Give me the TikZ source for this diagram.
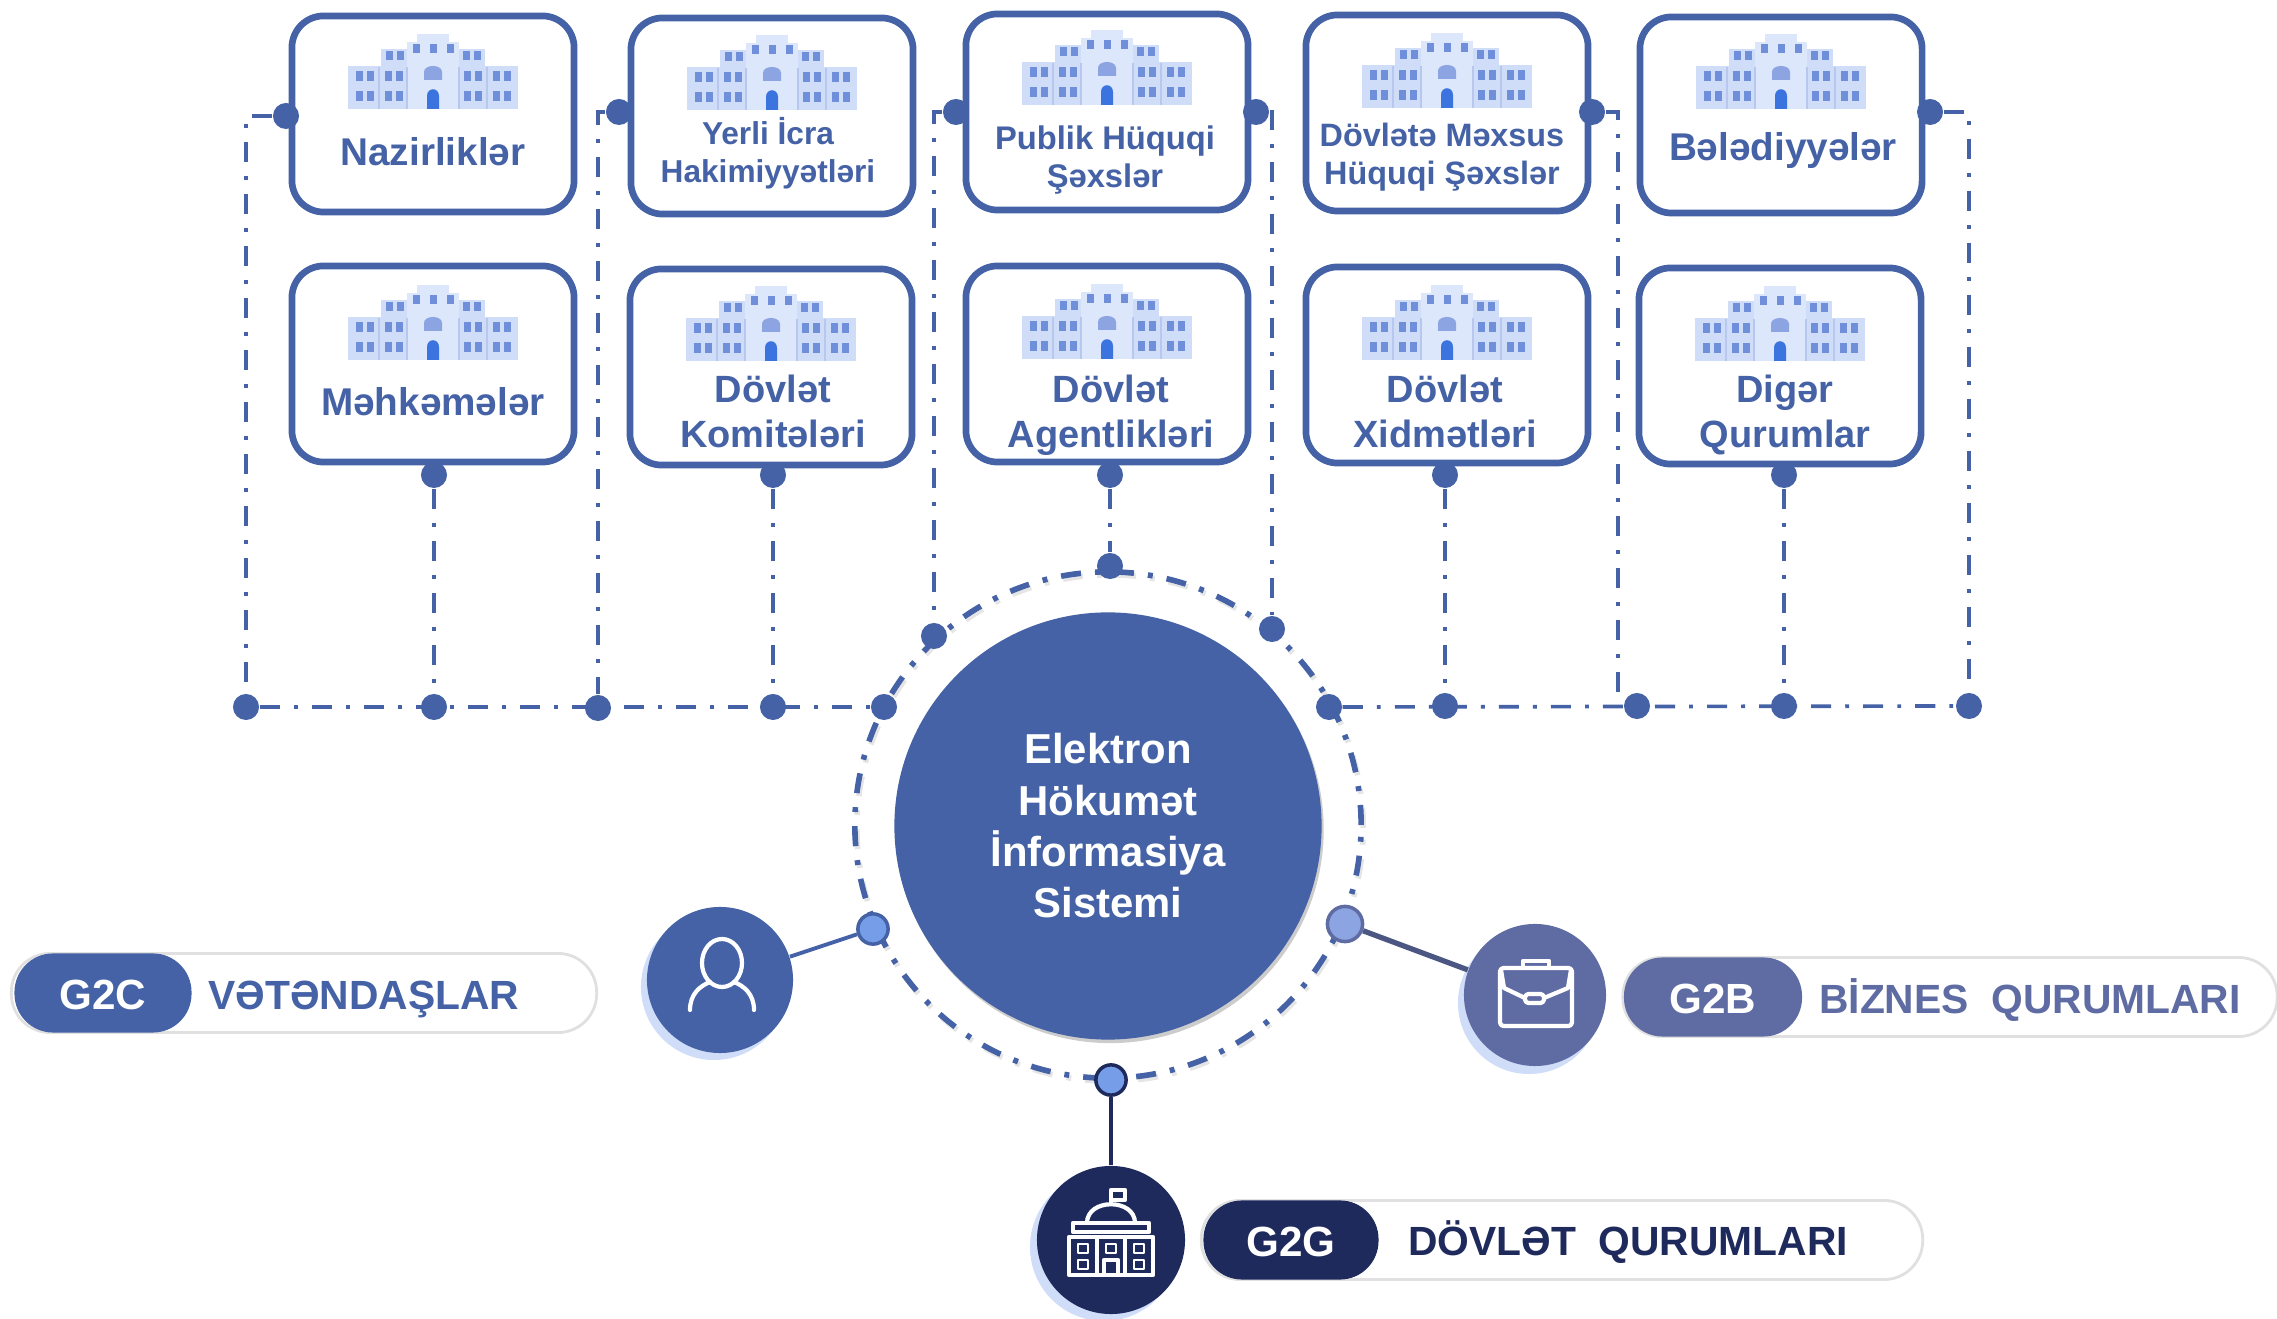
\documentclass[tikz,border=0pt]{standalone}
\usepackage{fontspec}
\setmainfont{Liberation Sans}
\usetikzlibrary{shadows}
\definecolor{egovblue}{HTML}{4462A5}
\definecolor{bizblue}{HTML}{5F6CA3}
\definecolor{govnavy}{HTML}{1F2A5C}
\definecolor{wallblue}{HTML}{CFDDF9}
\definecolor{windowblue}{HTML}{6F8FDB}
\definecolor{doorblue}{HTML}{3B74DE}
\tikzset{
    unitbox/.style={rectangle, draw=egovblue, line width=1.9pt, fill=white, rounded corners=9pt, minimum width=2.82cm, minimum height=1.96cm},
    unitlabel/.style={text=egovblue, font=\bfseries\fontsize{#1}{12.8}\selectfont, align=center, inner sep=0pt},
    unitlabel/.default=11,
    smalllabel/.style={text=egovblue, font=\bfseries\fontsize{#1}{10.8}\selectfont, align=center, inner sep=0pt},
    joint/.style={circle, fill=egovblue, inner sep=0pt, minimum size=7.4pt},
    portdot/.style={circle, draw=#1, line width=1pt, inner sep=0pt, minimum size=8.6pt},
    trunkline/.style={draw=egovblue, line width=1.05pt, dash pattern=on 5.7pt off 4pt on 1.1pt off 4pt},
    ringline/.style={line width=1.6pt, dash pattern=on 5.7pt off 4pt on 1.4pt off 4pt},
    rolecircle/.style={circle, inner sep=0pt, minimum size=#1},
    pillbar/.style={rectangle, draw=black!12, line width=0.8pt, fill=white, rounded corners=11pt, minimum height=22.5pt},
    pillhead/.style={rectangle, rounded corners=11pt, minimum height=22.5pt, text=white, font=\bfseries\fontsize{12}{14}\selectfont, inner sep=0pt, text height=9.5pt, text depth=0pt},
    pilltext/.style={font=\bfseries\fontsize{11.6}{14}\selectfont, inner sep=0pt},
    iconline/.style={draw=white, line width=1.2pt, line join=round},
    govbuilding/.pic={
        \fill[wallblue!70] (-16,-75) rectangle (16,-66);
        \fill[wallblue] (-52,-60) rectangle (52,-42);
        \fill[wallblue] (-85,-43) rectangle (85,0);
        \fill[wallblue!70] (-26,-67) rectangle (26,0);
        \foreach \wx in {-74,-63,-45,-34,34,45,63,74} {
            \fill[windowblue] (\wx-3.5,-38) rectangle (\wx+3.5,-28);
            \fill[windowblue] (\wx-3.5,-18) rectangle (\wx+3.5,-8);
        }
        \foreach \wx in {-44,-33,33,44} {
            \fill[windowblue] (\wx-3.5,-58) rectangle (\wx+3.5,-49);
        }
        \foreach \wx in {-17,0,17} {
            \fill[windowblue] (\wx-3.5,-65) rectangle (\wx+3.5,-56);
        }
        \foreach \wx in {-54,54,-26,26} {
            \draw[windowblue!50, line width=0.3pt] (\wx,-42) -- (\wx,0);
        }
        \fill[windowblue!80] (-9,-29) -- (-9,-37) .. controls (-9,-45) and (9,-45) .. (9,-37) -- (9,-29) -- cycle;
        \fill[doorblue] (-6,0) -- (-6,-13) .. controls (-6,-22) and (6,-22) .. (6,-13) -- (6,0) -- cycle;
    },
    usericon/.pic={
        \draw[iconline] (2,-17) ellipse (20 and 24);
        \draw[iconline, line cap=round] (-30,30) .. controls (-30,14) and (-20,6) .. (-10,2);
        \draw[iconline, line cap=round] (34,30) .. controls (34,14) and (24,6) .. (14,2);
    },
    caseicon/.pic={
        \draw[iconline, rounded corners=1pt] (-35,-27) rectangle (37,31);
        \draw[iconline] (-12,-27) -- (-12,-34) -- (14,-34) -- (14,-27);
        \draw[iconline] (-34,-25) -- (-31,-7) -- (-10,3);
        \draw[iconline] (9,3) -- (33,-7) -- (36,-25);
        \draw[iconline, rounded corners=1pt] (-10,-1) rectangle (9,8);
    },
    capitolicon/.pic={
        \draw[iconline] (0,-36) -- (0,-50) -- (14,-50) -- (14,-40) -- (0,-40);
        \draw[iconline] (-24,-17) .. controls (-24,-42) and (24,-42) .. (24,-17);
        \draw[iconline] (-38,-17) rectangle (38,-8);
        \draw[iconline] (-42,-3) rectangle (42,35);
        \draw[iconline] (-14,-3) -- (-14,35);
        \draw[iconline] (14,-3) -- (14,35);
        \draw[iconline] (-7,35) -- (-7,20) -- (7,20) -- (7,35);
        \foreach \wx in {-28,0,28} {
            \draw[iconline, line width=0.8pt] (\wx-5,4) rectangle (\wx+5,13);
        }
        \foreach \wx in {-28,28} {
            \draw[iconline, line width=0.8pt] (\wx-5,20) rectangle (\wx+5,29);
        }
    }
}

\begin{document}
\begin{tikzpicture}[x=0.01cm, y=-0.01cm]
    \useasboundingbox (0,0) rectangle (2277,1319);

    % Unit boxes, upper row
    \node[unitbox] (nazir) at (433,114) {};
    \node[unitbox] (yerli) at (772,116) {};
    \node[unitbox] (publik) at (1107,112) {};
    \node[unitbox] (mexsus) at (1447,113) {};
    \node[unitbox] (beled) at (1781,115) {};

    % Unit boxes, lower row
    \node[unitbox] (mehkeme) at (433,364) {};
    \node[unitbox] (komite) at (771,367) {};
    \node[unitbox] (agent) at (1107,364) {};
    \node[unitbox] (xidmet) at (1447,365) {};
    \node[unitbox] (diger) at (1780,366) {};

    % Building icons
    \pic at (433,109) {govbuilding};
    \pic at (772,110) {govbuilding};
    \pic at (1107,105) {govbuilding};
    \pic at (1447,108) {govbuilding};
    \pic at (1781,109) {govbuilding};
    \pic at (433,360) {govbuilding};
    \pic at (771,361) {govbuilding};
    \pic at (1107,359) {govbuilding};
    \pic at (1447,360) {govbuilding};
    \pic at (1780,361) {govbuilding};

    % Unit names
    \node[unitlabel] (nazirname) at (433,152) {Nazirliklər};
    \node[smalllabel=9] (yerliname) at (768,153) {Yerli İcra\\Hakimiyyətləri};
    \node[smalllabel=9.3] (publikname) at (1105,160) {Publik Hüquqi\\Şəxslər};
    \node[smalllabel=9.2] (mexsusname) at (1442,157) {Dövlətə Məxsus\\Hüquqi Şəxslər};
    \node[unitlabel] (beledname) at (1783,151) {Bələdiyyələr};
    \node[unitlabel] (mehkemename) at (433,402) {Məhkəmələr};
    \node[unitlabel=10.8] (komitename) at (773,411) {Dövlət\\Komitələri};
    \node[unitlabel=10.8] (agentname) at (1111,415) {Dövlət\\Agentlikləri};
    \node[unitlabel=10.8] (xidmetname) at (1445,411) {Dövlət\\Xidmətləri};
    \node[unitlabel=10.8] (digername) at (1785,415) {Digər\\Qurumlar};

    % Centre with its ring
    \node[circle, draw=black!10, ringline, minimum size=5.06cm, inner sep=0pt] (ringshade) at (1110,828) {};
    \node[circle, draw=egovblue, ringline, minimum size=5.06cm, inner sep=0pt] (ring) at (1108,825) {};
    \node[circle, fill=egovblue, drop shadow={shadow xshift=0.6pt, shadow yshift=-1pt, fill=black, opacity=0.2}, minimum size=4.27cm, inner sep=0pt, text=white, font=\bfseries\fontsize{11.9}{14.6}\selectfont, align=center] (egov) at (1108,826) {Elektron\\Hökumət\\İnformasiya\\Sistemi};

    % Joints on the boxes
    \node[joint] (t1) at (286,116) {};
    \node[joint] (t2) at (619,112) {};
    \node[joint] (t3) at (956,112) {};
    \node[joint] (t4) at (1256,112) {};
    \node[joint] (t5) at (1592,112) {};
    \node[joint] (t6) at (1930,112) {};
    \node[joint] (b1) at (434,475) {};
    \node[joint] (b2) at (773,475) {};
    \node[joint] (b3) at (1110,475) {};
    \node[joint] (b4) at (1445,475) {};
    \node[joint] (b5) at (1784,475) {};

    % Joints on the ring and on the trunk
    \node[joint] (rt) at (1110,566) {};
    \node[joint] (rul) at (934,636) {};
    \node[joint] (rur) at (1272,629) {};
    \node[joint] (rl) at (884,707) {};
    \node[joint] (rr) at (1329,707) {};
    \node[joint] (h1) at (246,707) {};
    \node[joint] (h2) at (434,707) {};
    \node[joint] (h3) at (598,708) {};
    \node[joint] (h4) at (773,707) {};
    \node[joint] (h5) at (1445,706) {};
    \node[joint] (h6) at (1637,706) {};
    \node[joint] (h7) at (1784,706) {};
    \node[joint] (h8) at (1969,706) {};
    \coordinate (h5b) at (1618,706);

    % Trunk lines
    \draw[trunkline] (h1) -- (rl);
    \draw[trunkline] (rr) -- (h8);
    \draw[trunkline] (t1) -| (h1);
    \draw[trunkline] (t2) -| (h3);
    \draw[trunkline] (t3) -| (rul);
    \draw[trunkline] (t4) -| (rur);
    \draw[trunkline] (t5) -| (h5b);
    \draw[trunkline] (t6) -| (h8);
    \draw[trunkline] (b1) -- (h2);
    \draw[trunkline] (b2) -- (h4);
    \draw[trunkline] (b3) -- (rt);
    \draw[trunkline] (b4) -- (h5);
    \draw[trunkline] (b5) -- (h7);

    % G2C
    \node[rolecircle=1.46cm, fill=wallblue] (g2cshade) at (714,987) {};
    \node[rolecircle=1.46cm, fill=egovblue] (g2ccircle) at (720,980) {};
    \node[portdot=egovblue, fill=doorblue!70] (g2cport) at (873,929) {};
    \draw[egovblue, line width=1.1pt] (g2ccircle) -- (g2cport);
    \pic at (720,980) {usericon};
    \node[pillbar, minimum width=5.85cm] (g2cbar) at (304,993) {};
    \node[pillhead, fill=egovblue, minimum width=1.77cm] (g2chead) at (103,993) {G2C};
    \node[pilltext, text=egovblue] (g2ctext) at (364,999) {VƏTƏNDAŞLAR};

    % G2B
    \node[rolecircle=1.42cm, fill=wallblue] (g2bshade) at (1529,1003) {};
    \node[rolecircle=1.42cm, fill=bizblue] (g2bcircle) at (1535,995) {};
    \node[portdot=bizblue, minimum size=10pt, fill=windowblue!80] (g2bport) at (1345,924) {};
    \draw[bizblue!80!black, line width=1.5pt] (g2bcircle) -- (g2bport);
    \pic at (1535,995) {caseicon};
    \node[pillbar, minimum width=6.54cm] (g2bbar) at (1950,997) {};
    \node[pillhead, fill=bizblue, minimum width=1.78cm] (g2bhead) at (1713,997) {G2B};
    \node[pilltext, text=bizblue] (g2btext) at (2030,1000) {BİZNES\ \ QURUMLARI};

    % G2G
    \node[rolecircle=1.48cm, fill=wallblue] (g2gshade) at (1104,1247) {};
    \node[rolecircle=1.48cm, fill=govnavy] (g2gcircle) at (1111,1240) {};
    \node[portdot=govnavy, fill=doorblue!70] (g2gport) at (1111,1080) {};
    \draw[govnavy, line width=1.1pt] (g2gcircle) -- (g2gport);
    \pic at (1111,1240) {capitolicon};
    \node[pillbar, minimum width=7.21cm] (g2gbar) at (1562,1240) {};
    \node[pillhead, fill=govnavy, minimum width=1.75cm] (g2ghead) at (1291,1240) {G2G};
    \node[pilltext, text=govnavy] (g2gtext) at (1628,1242) {DÖVLƏT\ \ QURUMLARI};
\end{tikzpicture}
\end{document}
